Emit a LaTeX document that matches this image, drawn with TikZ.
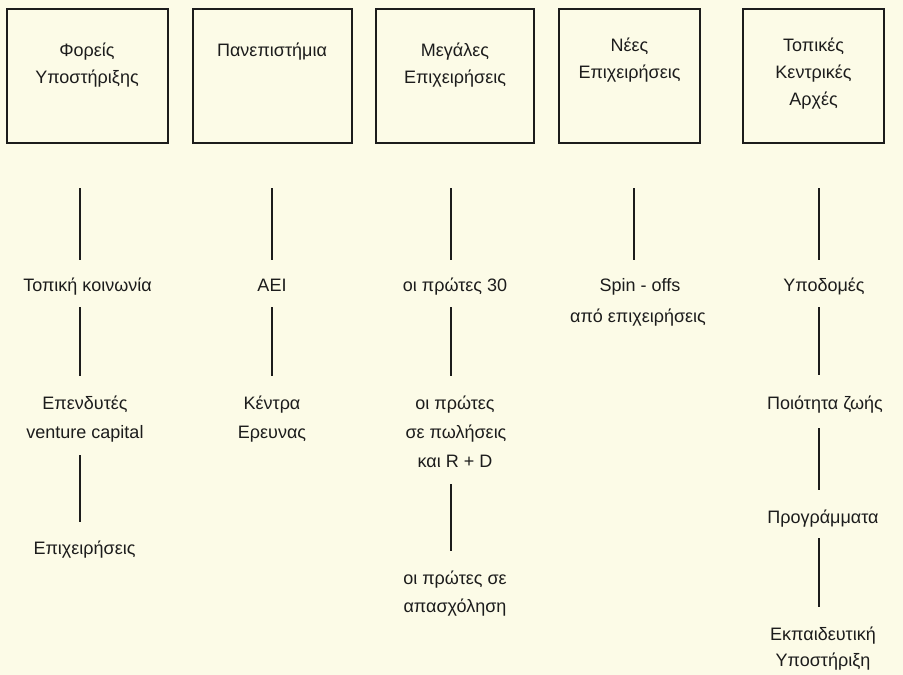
\documentclass[tikz,border=0pt]{standalone}
\usepackage{fontspec}
\setmainfont{Liberation Sans}
\definecolor{paper}{RGB}{252,251,231}
\definecolor{ink}{RGB}{28,28,28}
\begin{document}
\begin{tikzpicture}[x=1pt,y=-1pt,
  box/.style={draw=ink, line width=1.8pt, rectangle, inner sep=0, minimum height=134pt},
  lbl/.style={anchor=base, inner sep=0, text=ink, font=\fontsize{18}{22}\selectfont},
  link/.style={draw=ink, line width=2pt}]
\fill[paper] (0,0) rectangle (903,675);
\useasboundingbox (0,0) rectangle (903,675);

% boxes
\node[box, minimum width=161pt] (b1) at (87.5,76) {};
\node[box, minimum width=159pt] (b2) at (272.5,76) {};
\node[box, minimum width=158pt] (b3) at (455,76) {};
\node[box, minimum width=141pt] (b4) at (629.5,76) {};
\node[box, minimum width=141pt] (b5) at (813.5,76) {};

% box texts
\node[lbl] (b1a) at (87,56) {Φορείς};
\node[lbl] (b1b) at (87,83) {Υποστήριξης};
\node[lbl] (b2a) at (272,56) {Πανεπιστήμια};
\node[lbl] (b3a) at (455,56) {Μεγάλες};
\node[lbl] (b3b) at (455,83) {Επιχειρήσεις};
\node[lbl] (b4a) at (629.5,51) {Νέες};
\node[lbl] (b4b) at (629.5,78) {Επιχειρήσεις};
\node[lbl] (b5a) at (813.5,51) {Τοπικές};
\node[lbl] (b5b) at (813.5,78) {Κεντρικές};
\node[lbl] (b5c) at (813.5,105) {Αρχές};

% column 1
\node[lbl] (t1a) at (87.5,291) {Τοπική κοινωνία};
\node[lbl] (t1b) at (85,409) {Επενδυτές};
\node[lbl] (t1c) at (85,438) {venture capital};
\node[lbl] (t1d) at (84.5,554) {Επιχειρήσεις};
% column 2
\node[lbl] (t2a) at (272,291) {ΑΕΙ};
\node[lbl] (t2b) at (272,409) {Κέντρα};
\node[lbl] (t2c) at (272,438) {Ερευνας};
% column 3
\node[lbl] (t3a) at (455,291) {οι πρώτες 30};
\node[lbl] (t3b) at (455,409) {οι πρώτες};
\node[lbl] (t3c) at (456,438) {σε πωλήσεις};
\node[lbl] (t3d) at (455,467) {και R + D};
\node[lbl] (t3e) at (455,584) {οι πρώτες σε};
\node[lbl] (t3f) at (455,612) {απασχόληση};
% column 4
\node[lbl] (t4a) at (640,291) {Spin - offs};
\node[lbl] (t4b) at (638,322) {από επιχειρήσεις};
% column 5
\node[lbl] (t5a) at (824,291) {Υποδομές};
\node[lbl] (t5b) at (825,409) {Ποιότητα ζωής};
\node[lbl] (t5c) at (823,523) {Προγράμματα};
\node[lbl] (t5d) at (823,640) {Εκπαιδευτική};
\node[lbl] (t5e) at (823,666) {Υποστήριξη};

% line end points
\coordinate (p1a) at (80,188); \coordinate (q1a) at (80,260);
\coordinate (p1b) at (80,307); \coordinate (q1b) at (80,376);
\coordinate (p1c) at (80,455); \coordinate (q1c) at (80,522);
\coordinate (p2a) at (272,188); \coordinate (q2a) at (272,260);
\coordinate (p2b) at (272,307); \coordinate (q2b) at (272,376);
\coordinate (p3a) at (451,188); \coordinate (q3a) at (451,260);
\coordinate (p3b) at (451,307); \coordinate (q3b) at (451,376);
\coordinate (p3c) at (451,484); \coordinate (q3c) at (451,551);
\coordinate (p4a) at (634,188); \coordinate (q4a) at (634,260);
\coordinate (p5a) at (819,188); \coordinate (q5a) at (819,260);
\coordinate (p5b) at (819,307); \coordinate (q5b) at (819,375);
\coordinate (p5c) at (819,428); \coordinate (q5c) at (819,490);
\coordinate (p5d) at (819,538); \coordinate (q5d) at (819,607);

\foreach \s in {1a,1b,1c,2a,2b,3a,3b,3c,4a,5a,5b,5c,5d}
  \draw[link] (p\s) -- (q\s);
\end{tikzpicture}
\end{document}
